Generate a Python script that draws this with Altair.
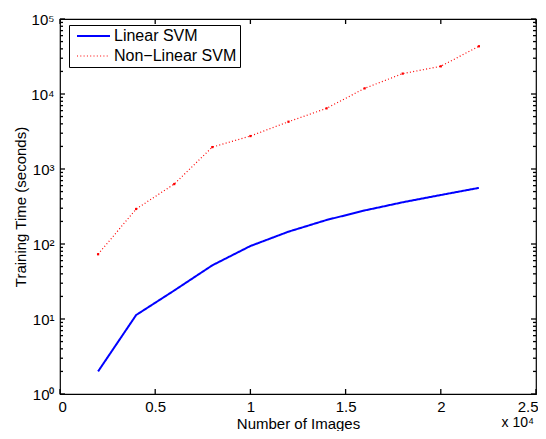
import altair as alt
import pandas as pd

# ---- data ----
images = [2000, 4000, 6000, 8000, 10000, 12000, 14000, 16000, 18000, 20000, 22000]
linear_time = [2.0, 11.3, 24.0, 52.0, 94.0, 146.0, 209.0, 280.0, 360.0, 450.0, 560.0]
nonlinear_time = [73.0, 293.0, 630.0, 1960.0, 2750.0, 4270.0, 6440.0, 11900.0, 18700.0, 23400.0, 43300.0]
series = ["Linear SVM", "Non\u2212Linear SVM"]
x_ticks = [0, 0.5, 1, 1.5, 2, 2.5]
y_major = [1, 10, 100, 1000, 10000, 100000]
y_minor = [m * 10 ** d for d in range(5) for m in range(2, 10)]

W, H = 476, 375
FONT = "Liberation Sans"

df = pd.DataFrame({
    "images": images * 2,
    "time": linear_time + nonlinear_time,
    "series": [series[0]] * len(images) + [series[1]] * len(images),
})

xs = alt.Scale(domain=[0, 2.5], nice=False, zero=False)
ys = alt.Scale(type="log", domain=[1, 100000], nice=False)

base = alt.Chart(df).transform_calculate(xk="datum.images / 10000")

sup = "['\u2070','\u00b9','\u00b2','\u00b3','\u2074','\u2075']"
legend = alt.Legend(
    title=None, orient="none", legendX=9, legendY=6,
    strokeColor="black", fillColor="white", padding=3,
    symbolType="M-4,0H4", symbolSize=68, symbolOffset=13.5,
    labelOffset=12.5, labelFont=FONT, labelFontSize=16, labelColor="black",
    labelLimit=400, rowPadding=4,
)

lines = base.mark_line(clip=True).encode(
    x=alt.X("xk:Q", scale=xs, axis=alt.Axis(
        orient="bottom", values=x_ticks, format="~g", title="Number of Images",
        ticks=False, tickSize=0, domain=False, grid=False, labelPadding=5,
        labelFlush=True, labelFlushOffset=2,
        titleY=34, titleBaseline="alphabetic")),
    y=alt.Y("time:Q", scale=ys, axis=alt.Axis(
        orient="left", values=y_major, labelExpr=f"'10' + {sup}[round(log(datum.value)/LN10)]",
        title="Training Time (seconds)", ticks=False, tickSize=0, domain=False,
        grid=False, labelPadding=6, labelFlush=False,
        titleX=-40, titleBaseline="middle")),
    color=alt.Color("series:N", scale=alt.Scale(domain=series, range=["#0000ff", "#ff0000"]), legend=legend),
    strokeDash=alt.StrokeDash("series:N", scale=alt.Scale(domain=series, range=[[1, 0], [1, 2.3]]), legend=legend),
    strokeWidth=alt.StrokeWidth("series:N", scale=alt.Scale(domain=series, range=[2, 1.2]), legend=legend),
)

dots = base.transform_filter(f"datum.series == '{series[1]}'").mark_point(
    filled=True, shape="square", size=5, color="#ff0000", opacity=1
).encode(
    x=alt.X("xk:Q", scale=xs, axis=None),
    y=alt.Y("time:Q", scale=ys, axis=None),
)

# inward tick marks on all four sides (MATLAB style)
xt = alt.Chart(pd.DataFrame({"v": x_ticks}))
ymaj = alt.Chart(pd.DataFrame({"v": y_major}))
ymin = alt.Chart(pd.DataFrame({"v": y_minor}))
rule = dict(color="black", strokeWidth=1.3)
ticks = [
    xt.mark_rule(**rule).encode(x=alt.X("v:Q", scale=xs, axis=None), y=alt.value(H), y2=alt.value(H - 5)),
    xt.mark_rule(**rule).encode(x=alt.X("v:Q", scale=xs, axis=None), y=alt.value(0), y2=alt.value(5)),
    ymaj.mark_rule(**rule).encode(y=alt.Y("v:Q", scale=ys, axis=None), x=alt.value(0), x2=alt.value(5)),
    ymaj.mark_rule(**rule).encode(y=alt.Y("v:Q", scale=ys, axis=None), x=alt.value(W), x2=alt.value(W - 5)),
    ymin.mark_rule(**rule).encode(y=alt.Y("v:Q", scale=ys, axis=None), x=alt.value(0), x2=alt.value(3)),
    ymin.mark_rule(**rule).encode(y=alt.Y("v:Q", scale=ys, axis=None), x=alt.value(W), x2=alt.value(W - 3)),
]

exp_label = alt.Chart(pd.DataFrame({"t": ["x 10\u2074"]})).mark_text(
    align="right", baseline="middle", font=FONT, fontSize=14, color="black"
).encode(x=alt.value(W - 2), y=alt.value(H + 28.5), text="t:N")

chart = alt.layer(lines, dots, *ticks, exp_label).resolve_axis(
    x="independent", y="independent"
).properties(
    width=W, height=H,
    autosize=alt.AutoSizeParams(type="none"),
    padding={"left": 52, "top": 11, "right": 2, "bottom": 37},
).configure_view(
    stroke="black", strokeWidth=1.2
).configure_axis(
    labelFont=FONT, labelFontSize=15, labelColor="black",
    titleFont=FONT, titleFontSize=15, titleFontWeight="normal", titleColor="black",
)

chart.save("out.html", embed_options={"renderer": "svg", "actions": False})
